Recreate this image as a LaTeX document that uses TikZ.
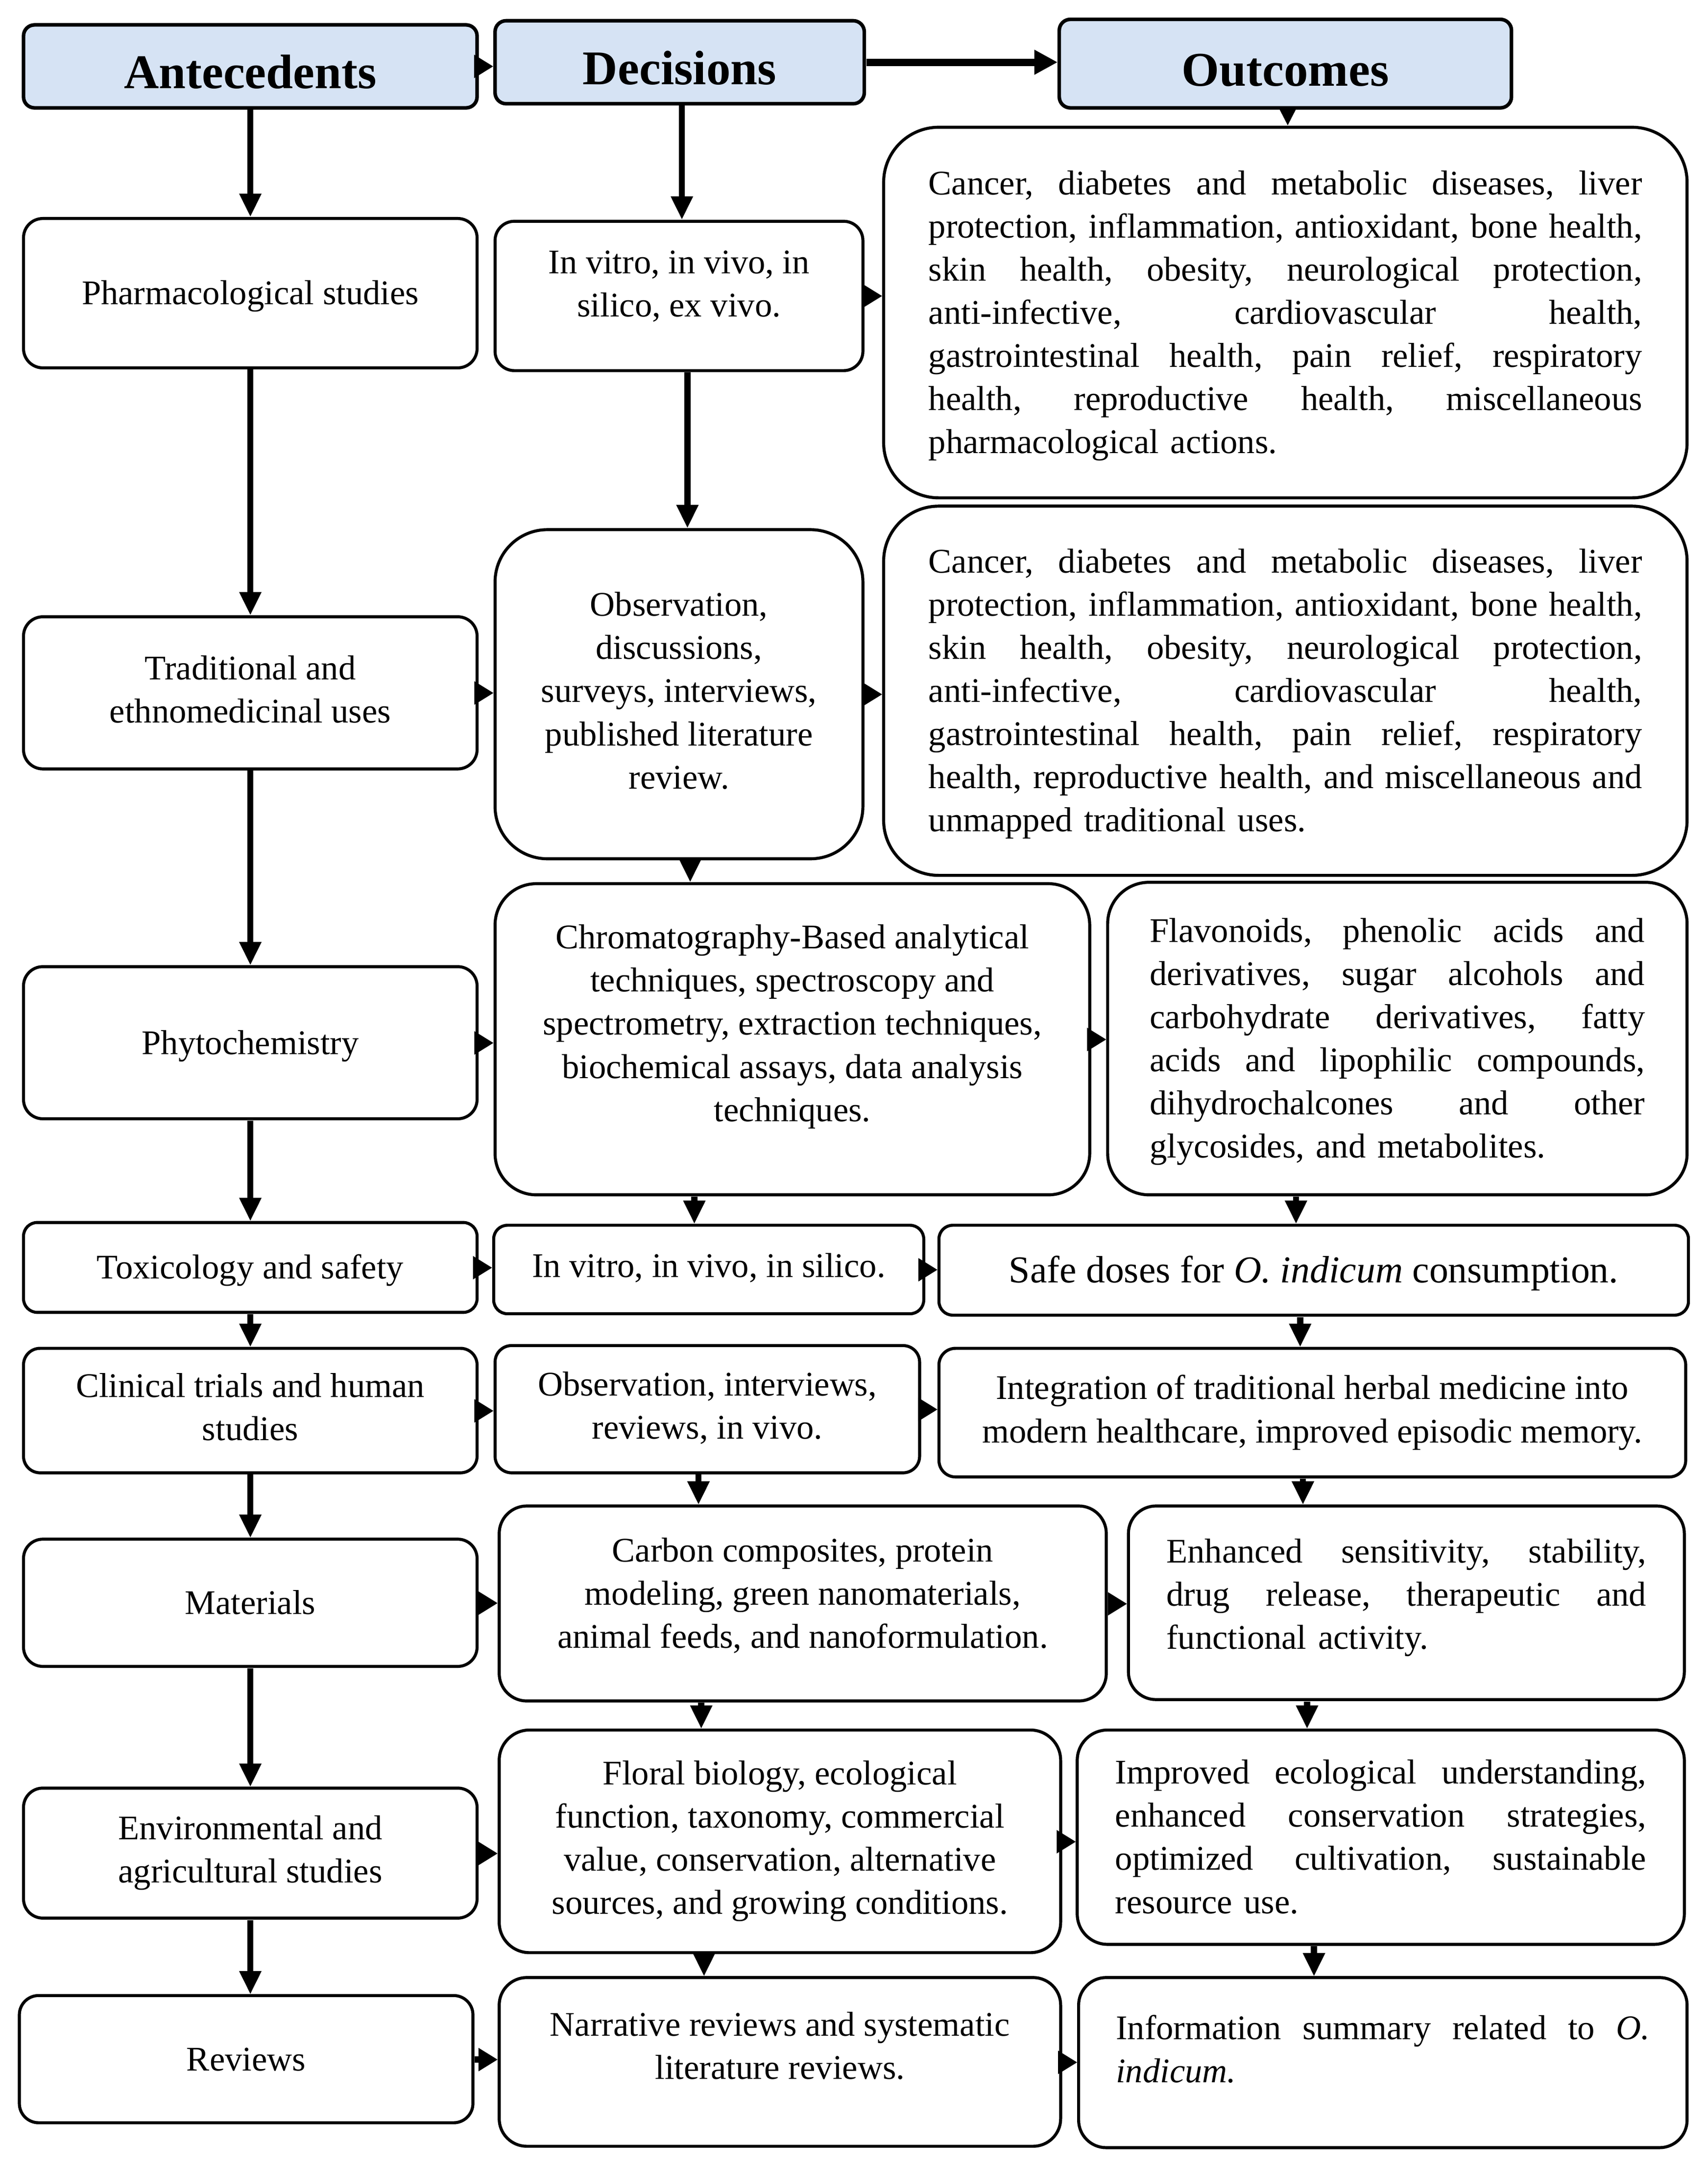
\documentclass[tikz,border=0pt]{standalone}
\usepackage{fontspec}
\setmainfont{Liberation Serif}
\usetikzlibrary{arrows.meta}
\definecolor{hdr}{RGB}{214,227,244}
\newcommand\jl[2]{\leavevmode\hbox to #1{\frenchspacing\spaceskip=\fontdimen2\font plus 1fil minus \fontdimen4\font\relax #2}\\}
\begin{document}
\begin{tikzpicture}[x=1pt,y=-1pt,scale=1.004,
  every node/.append style={transform shape},
  base/.style={draw, line width=2.2pt, inner sep=0pt, font=\fontsize{25}{31.2}\selectfont, align=center,
    execute at begin node={\rule{0pt}{0.88em}},
    execute at end node={\rule[-0.22em]{0pt}{0pt}}},
  up/.style={execute at end node={\rule[\dimexpr-0.22em-#1\relax]{0pt}{0pt}}},
  hdrbox/.style={base, fill=hdr, line width=2.6pt, rounded corners=8pt, font=\fontsize{35}{40}\selectfont\bfseries, text height=32pt, text depth=0pt},
  just/.style={base, align=left, text width=#1},
  arr/.style={line width=4.5pt, -{Triangle[length=17pt,width=15pt]}},
  harr/.style={line width=4.5pt, -{Triangle[length=14pt,width=16pt]}},
]
\useasboundingbox (0,0) rectangle (1235.06,1567.73);
% headers
\node[hdrbox, minimum width=328pt, minimum height=60pt] (ante) at (181,48) {Antecedents};
\node[hdrbox, minimum width=267pt, minimum height=60pt] (dec) at (491.5,45) {Decisions};
\node[hdrbox, minimum width=327pt, minimum height=64pt] (outc) at (929.5,46) {Outcomes};
% column 1
\node[base, minimum width=328pt, minimum height=108pt, rounded corners=14pt] (pharm) at (181,212) {Pharmacological studies};
\node[base, minimum width=328pt, minimum height=110pt, rounded corners=14pt] (trad) at (181,501) {Traditional and\\ethnomedicinal uses};
\node[base, minimum width=328pt, minimum height=110pt, rounded corners=14pt] (phyto) at (181,754) {Phytochemistry};
\node[base, minimum width=328pt, minimum height=65pt, rounded corners=10pt] (tox) at (181,916.5) {Toxicology and safety};
\node[base, minimum width=328pt, minimum height=90pt, rounded corners=12pt] (clin) at (181,1020) {Clinical trials and human\\studies};
\node[base, minimum width=328pt, minimum height=92pt, rounded corners=14pt] (mat) at (181,1159) {Materials};
\node[base, minimum width=328pt, minimum height=94pt, rounded corners=14pt] (env) at (181,1340) {Environmental and\\agricultural studies};
\node[base, minimum width=328pt, minimum height=92pt, rounded corners=14pt] (rev) at (178,1489) {Reviews};
% column 2
\node[base, up=12pt, minimum width=266pt, minimum height=108pt, rounded corners=14pt] (in1) at (491,214) {In vitro, in vivo, in\\silico, ex vivo.};
\node[base, minimum width=266pt, minimum height=238pt, rounded corners=38pt] (obs) at (491,502) {Observation,\\discussions,\\surveys, interviews,\\published literature\\review.};
\node[base, up=18pt, minimum width=430pt, minimum height=225pt, rounded corners=30pt] (chrom) at (573,751.5) {Chromatography-Based analytical\\techniques, spectroscopy and\\spectrometry, extraction techniques,\\biochemical assays, data analysis\\techniques.};
\node[base, up=5pt, minimum width=311pt, minimum height=64pt, rounded corners=10pt] (in2) at (512.5,918) {In vitro, in vivo, in silico.};
\node[base, minimum width=307pt, minimum height=92pt, rounded corners=12pt] (obs2) at (511.5,1019) {Observation, interviews,\\reviews, in vivo.};
\node[base, up=10pt, minimum width=439pt, minimum height=141pt, rounded corners=20pt] (carb) at (580.5,1159.5) {Carbon composites, protein\\modeling, green nanomaterials,\\animal feeds, and nanoformulation.};
\node[base, minimum width=406pt, minimum height=161pt, rounded corners=22pt] (flor) at (564,1331.5) {Floral biology, ecological\\function, taxonomy, commercial\\value, conservation, alternative\\sources, and growing conditions.};
\node[base, up=18pt, minimum width=406pt, minimum height=122pt, rounded corners=20pt] (narr) at (564,1491) {Narrative reviews and systematic\\literature reviews.};
% column 3
\node[just=516pt, minimum width=581pt, minimum height=268pt, rounded corners=40pt] (o1) at (929.5,226) {\jl{516pt}{Cancer, diabetes and metabolic diseases, liver}\jl{516pt}{protection, inflammation, antioxidant, bone health,}\jl{516pt}{skin health, obesity, neurological protection,}\jl{516pt}{anti-infective, cardiovascular health,}\jl{516pt}{gastrointestinal health, pain relief, respiratory}\jl{516pt}{health, reproductive health, miscellaneous}pharmacological actions.};
\node[just=516pt, minimum width=581pt, minimum height=267pt, rounded corners=40pt] (o2) at (929.5,499.5) {\jl{516pt}{Cancer, diabetes and metabolic diseases, liver}\jl{516pt}{protection, inflammation, antioxidant, bone health,}\jl{516pt}{skin health, obesity, neurological protection,}\jl{516pt}{anti-infective, cardiovascular health,}\jl{516pt}{gastrointestinal health, pain relief, respiratory}\jl{516pt}{health, reproductive health, and miscellaneous and}unmapped traditional uses.};
\node[just=358pt, minimum width=419pt, minimum height=226pt, rounded corners=30pt] (fla) at (1010.5,751) {\jl{358pt}{Flavonoids, phenolic acids and}\jl{358pt}{derivatives, sugar alcohols and}\jl{358pt}{carbohydrate derivatives, fatty}\jl{358pt}{acids and lipophilic compounds,}\jl{358pt}{dihydrochalcones and other}glycosides, and metabolites.};
\node[base, minimum width=542pt, minimum height=65pt, rounded corners=10pt, font=\fontsize{27.5}{33}\selectfont] (safe) at (950,918.5) {Safe doses for \textit{O. indicum} consumption.};
\node[base, minimum width=540pt, minimum height=93pt, rounded corners=12pt] (integ) at (949,1021.5) {Integration of traditional herbal medicine into\\modern healthcare, improved episodic memory.};
\node[just=347pt, up=12pt, minimum width=402pt, minimum height=140pt, rounded corners=20pt] (enh) at (1017,1159) {\jl{347pt}{Enhanced sensitivity, stability,}\jl{347pt}{drug release, therapeutic and}functional activity.};
\node[just=384pt, minimum width=439pt, minimum height=155pt, rounded corners=22pt] (imp) at (998.5,1328.5) {\jl{384pt}{Improved ecological understanding,}\jl{384pt}{enhanced conservation strategies,}\jl{384pt}{optimized cultivation, sustainable}resource use.};
\node[just=386pt, up=19pt, minimum width=440pt, minimum height=123pt, rounded corners=20pt] (info) at (1000,1491.5) {\jl{386pt}{Information summary related to \textit{O.}}\textit{indicum.}};
% x positions of vertical connectors
\coordinate (c493) at (493,0);
\coordinate (c497) at (497,0);
\coordinate (c499) at (499,0);
\coordinate (c502) at (502,0);
\coordinate (c505) at (505,0);
\coordinate (c507) at (507,0);
\coordinate (c509) at (509,0);
\coordinate (c931) at (931,0);
\coordinate (c937) at (937,0);
\coordinate (c940) at (940,0);
\coordinate (c942) at (942,0);
\coordinate (c945) at (945,0);
\coordinate (c950) at (950,0);
% column 1 connectors
\draw[arr] (ante.south) -- (pharm.north);
\draw[arr] (pharm.south) -- (trad.north);
\draw[arr] (trad.south) -- (phyto.north);
\draw[arr] (phyto.south) -- (tox.north);
\draw[arr] (tox.south) -- (clin.north);
\draw[arr] (clin.south) -- (mat.north);
\draw[arr] (mat.south) -- (env.north);
\draw[arr] (env.south) -- (env.south |- rev.north);
% column 2 connectors
\draw[arr] (dec.south -| c493) -- (in1.north -| c493);
\draw[arr] (in1.south -| c497) -- (obs.north -| c497);
\draw[arr] (obs.south -| c499) -- (chrom.north -| c499);
\draw[arr] (chrom.south -| c502) -- (in2.north -| c502);
\draw[arr] (obs2.south -| c505) -- (carb.north -| c505);
\draw[arr] (carb.south -| c507) -- (flor.north -| c507);
\draw[arr] (flor.south -| c509) -- (narr.north -| c509);
% column 3 connectors
\draw[arr, -{Triangle[length=13pt,width=12pt]}] (outc.south -| c931) -- (o1.north -| c931);
\draw[arr] (fla.south -| c937) -- (safe.north -| c937);
\draw[arr] (safe.south -| c940) -- (integ.north -| c940);
\draw[arr] (integ.south -| c942) -- (enh.north -| c942);
\draw[arr] (enh.south -| c945) -- (imp.north -| c945);
\draw[arr] (imp.south -| c950) -- (info.north -| c950);
% horizontal connectors
\draw[harr] (ante.east) -- (ante.east -| dec.west);
\draw[line width=5.3pt, -{Triangle[length=17pt,width=17pt]}] (dec.east) -- (dec.east -| outc.west);
\draw[harr] (in1.east) -- (in1.east -| o1.west);
\draw[harr] (trad.east) -- (trad.east -| obs.west);
\draw[harr] (obs.east) -- (obs.east -| o2.west);
\draw[harr] (phyto.east) -- (phyto.east -| chrom.west);
\draw[harr] (chrom.east) -- (chrom.east -| fla.west);
\draw[harr] (tox.east) -- (tox.east -| in2.west);
\draw[harr] (in2.east) -- (in2.east -| safe.west);
\draw[harr] (clin.east) -- (clin.east -| obs2.west);
\draw[harr] (obs2.east) -- (obs2.east -| integ.west);
\draw[harr] (mat.east) -- (mat.east -| carb.west);
\draw[harr] (carb.east) -- (carb.east -| enh.west);
\draw[harr] (env.east) -- (env.east -| flor.west);
\draw[harr] (flor.east) -- (flor.east -| imp.west);
\draw[harr] (rev.east) -- (rev.east -| narr.west);
\draw[harr] (narr.east) -- (narr.east -| info.west);
\end{tikzpicture}
\end{document}
